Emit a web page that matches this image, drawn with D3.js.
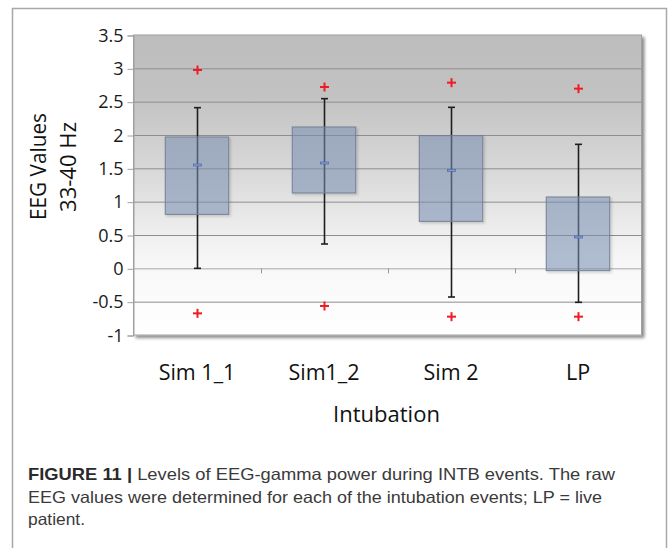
<!DOCTYPE html>
<html><head><meta charset="utf-8">
<script src="https://cdn.jsdelivr.net/npm/d3@7"></script>
<style>
html,body{margin:0;padding:0;background:#fff;}
svg{display:block;}
</style></head>
<body>
<svg id="chart" width="669" height="548"></svg>
<script>
// ---- data ----
const categories = ["Sim 1_1", "Sim1_2", "Sim 2", "LP"];
const boxLow = [0.81, 1.13, 0.705, -0.035];
const boxHigh = [1.97, 2.12, 1.99, 1.07];
const means = [1.55, 1.58, 1.47, 0.47];
const whiskerLow = [0.0, 0.365, -0.43, -0.51];
const whiskerHigh = [2.41, 2.545, 2.415, 1.86];
const outlierHigh = [2.975, 2.72, 2.785, 2.695];
const outlierLow = [-0.675, -0.565, -0.725, -0.725];
const yTicks = [-1, -0.5, 0, 0.5, 1, 1.5, 2, 2.5, 3, 3.5];
const yTickLabels = ["-1", "-0.5", "0", "0.5", "1", "1.5", "2", "2.5", "3", "3.5"];
const yTitle = ["EEG Values", "33-40 Hz"];
const xTitle = "Intubation";
const captionBold = "FIGURE 11";
const captionLines = ["Levels of EEG-gamma power during INTB events. The raw",
  "EEG values were determined for each of the intubation events; LP = live",
  "patient."];

const rows = categories.map((c, i) => ({c, lo: boxLow[i], hi: boxHigh[i], m: means[i],
  wl: whiskerLow[i], wh: whiskerHigh[i], oh: outlierHigh[i], ol: outlierLow[i]}));

const svg = d3.select("#chart");
const L = 133.5, R = 641.5, T = 35, B = 335;
const x = d3.scaleBand().domain(categories).range([L, R]).padding(0);
const y = d3.scaleLinear().domain([-1, 3.5]).range([B, T]);
const chartFont = "'Open Sans', sans-serif";

// frame
svg.append("rect").attr("x", 12.5).attr("y", 8.5).attr("width", 654).attr("height", 560)
  .attr("fill", "none").attr("stroke", "#a8a8a8").attr("stroke-width", 1.5);

const defs = svg.append("defs");
const grad = defs.append("linearGradient").attr("id", "bg").attr("x1", 0).attr("y1", 0).attr("x2", 0).attr("y2", 1);
[[0, "#bdbdbd"], [0.2, "#c3c2c2"], [0.45, "#d8d8d8"], [0.62, "#eaeaea"], [0.75, "#f7f7f7"], [1, "#ffffff"]]
  .forEach(([o, c]) => grad.append("stop").attr("offset", o).attr("stop-color", c));
const sh = defs.append("filter").attr("id", "shadow").attr("x", "-5%").attr("y", "-5%").attr("width", "115%").attr("height", "115%");
sh.append("feDropShadow").attr("dx", 2.5).attr("dy", 2.5).attr("stdDeviation", 1.5).attr("flood-color", "#000").attr("flood-opacity", 0.45);
const sh2 = defs.append("filter").attr("id", "bshadow").attr("x", "-10%").attr("y", "-10%").attr("width", "130%").attr("height", "130%");
sh2.append("feDropShadow").attr("dx", 1.5).attr("dy", 1.5).attr("stdDeviation", 1).attr("flood-color", "#000").attr("flood-opacity", 0.22);

// plot area
svg.append("rect").attr("x", L).attr("y", T).attr("width", R - L).attr("height", B - T)
  .attr("fill", "url(#bg)").attr("stroke", "#a0a0a0").attr("stroke-width", 1).attr("filter", "url(#shadow)");

// gridlines
svg.append("g").selectAll("line").data(yTicks.filter(v => v > -1 && v < 3.5)).join("line")
  .attr("x1", L).attr("x2", R).attr("y1", d => y(d) + 0.5).attr("y2", d => y(d) + 0.5)
  .attr("stroke", d => d === 0 ? "#a8a8a8" : "#8e8e8e").attr("stroke-width", 1);

// y axis
const yAxis = d3.axisLeft(y).tickValues(yTicks).tickFormat((d, i) => yTickLabels[i]).tickSize(6).tickPadding(4);
const gy = svg.append("g").attr("transform", `translate(${L},0.5)`).call(yAxis);
gy.select(".domain").attr("stroke", "#a0a0a0");
gy.selectAll(".tick line").attr("stroke", "#a0a0a0");
gy.selectAll("text").attr("font-family", chartFont).attr("font-size", 18).attr("fill", "#1a1a1a");

// category axis ticks at band boundaries (on zero line)
const bounds = categories.slice(1).map(c => x(c));
svg.append("g").selectAll("line").data(bounds).join("line")
  .attr("x1", d => Math.round(d) + 0.5).attr("x2", d => Math.round(d) + 0.5)
  .attr("y1", y(0)).attr("y2", y(0) + 5).attr("stroke", "#999");

// category labels
svg.append("g").selectAll("text").data(categories).join("text")
  .attr("x", d => x(d) + x.bandwidth() / 2).attr("y", 380)
  .attr("text-anchor", "middle").attr("font-family", chartFont).attr("font-size", 21.5).attr("fill", "#111")
  .text(d => d);

const bw = x.bandwidth() * 0.5;
const cx = d => Math.round(x(d.c) + x.bandwidth() / 2) + 0.5;
const g = svg.append("g");

// whiskers (behind boxes)
g.selectAll("line.wh").data(rows).join("line").attr("class", "wh")
  .attr("x1", cx).attr("x2", cx).attr("y1", d => y(d.wh)).attr("y2", d => y(d.wl))
  .attr("stroke", "#1e1e1e").attr("stroke-width", 1.6);
["wh", "wl"].forEach(k => {
  g.selectAll("line.cap" + k).data(rows).join("line").attr("class", "cap" + k)
    .attr("x1", d => cx(d) - 3.5).attr("x2", d => cx(d) + 3.5).attr("y1", d => y(d[k])).attr("y2", d => y(d[k]))
    .attr("stroke", "#1e1e1e").attr("stroke-width", 1.6);
});

// boxes
g.selectAll("rect.box").data(rows).join("rect").attr("class", "box")
  .attr("x", d => x(d.c) + x.bandwidth() / 2 - bw / 2)
  .attr("y", d => y(d.hi)).attr("width", bw).attr("height", d => y(d.lo) - y(d.hi))
  .attr("fill", "rgba(125,148,186,0.5)").attr("stroke", "#737f92").attr("stroke-width", 1)
  .attr("filter", "url(#bshadow)");

// mean markers
g.selectAll("rect.mean").data(rows).join("rect").attr("class", "mean")
  .attr("x", d => cx(d) - 4).attr("y", d => y(d.m) - 1).attr("width", 8).attr("height", 2)
  .attr("fill", "#8aa0d0").attr("stroke", "#4e6bb0").attr("stroke-width", 0.8);

// outliers
["oh", "ol"].forEach(k => {
  const og = g.selectAll("g.o" + k).data(rows).join("g").attr("class", "o" + k)
    .attr("transform", d => `translate(${cx(d)},${y(d[k])})`);
  og.append("line").attr("x1", -4.5).attr("x2", 4.5).attr("stroke", "#ee1c25").attr("stroke-width", 2);
  og.append("line").attr("y1", -4.5).attr("y2", 4.5).attr("stroke", "#ee1c25").attr("stroke-width", 2);
});

// y title
svg.append("text").attr("transform", "translate(46,166.5) rotate(-90)")
  .attr("text-anchor", "middle").attr("font-family", chartFont).attr("font-size", 21).attr("fill", "#111")
  .attr("textLength", 107).attr("lengthAdjust", "spacingAndGlyphs").text(yTitle[0]);
svg.append("text").attr("transform", "translate(75.5,167) rotate(-90)")
  .attr("text-anchor", "middle").attr("font-family", chartFont).attr("font-size", 21).attr("fill", "#111")
  .attr("textLength", 90).attr("lengthAdjust", "spacingAndGlyphs").text(yTitle[1]);

// x title
svg.append("text").attr("x", 386.5).attr("y", 422).attr("text-anchor", "middle")
  .attr("font-family", chartFont).attr("font-size", 22).attr("fill", "#111").text(xTitle);

// caption
const capFont = "'Liberation Sans', Arial, sans-serif";
const c1 = svg.append("text").attr("x", 28).attr("y", 480).attr("font-family", capFont).attr("font-size", 16.5)
  .attr("fill", "#3a3a3a").attr("textLength", 587).attr("lengthAdjust", "spacingAndGlyphs");
c1.append("tspan").attr("font-weight", "bold").attr("fill", "#2a2a2a").text(captionBold);
c1.append("tspan").attr("font-weight", "bold").attr("fill", "#2a2a2a").text("  |  ");
c1.append("tspan").text(captionLines[0]);
svg.append("text").attr("x", 28).attr("y", 502.5).attr("font-family", capFont).attr("font-size", 16.5)
  .attr("fill", "#3a3a3a").attr("textLength", 574).attr("lengthAdjust", "spacingAndGlyphs").text(captionLines[1]);
svg.append("text").attr("x", 28).attr("y", 525).attr("font-family", capFont).attr("font-size", 16.5)
  .attr("fill", "#3a3a3a").attr("textLength", 57).attr("lengthAdjust", "spacingAndGlyphs").text(captionLines[2]);
</script>
</body></html>
